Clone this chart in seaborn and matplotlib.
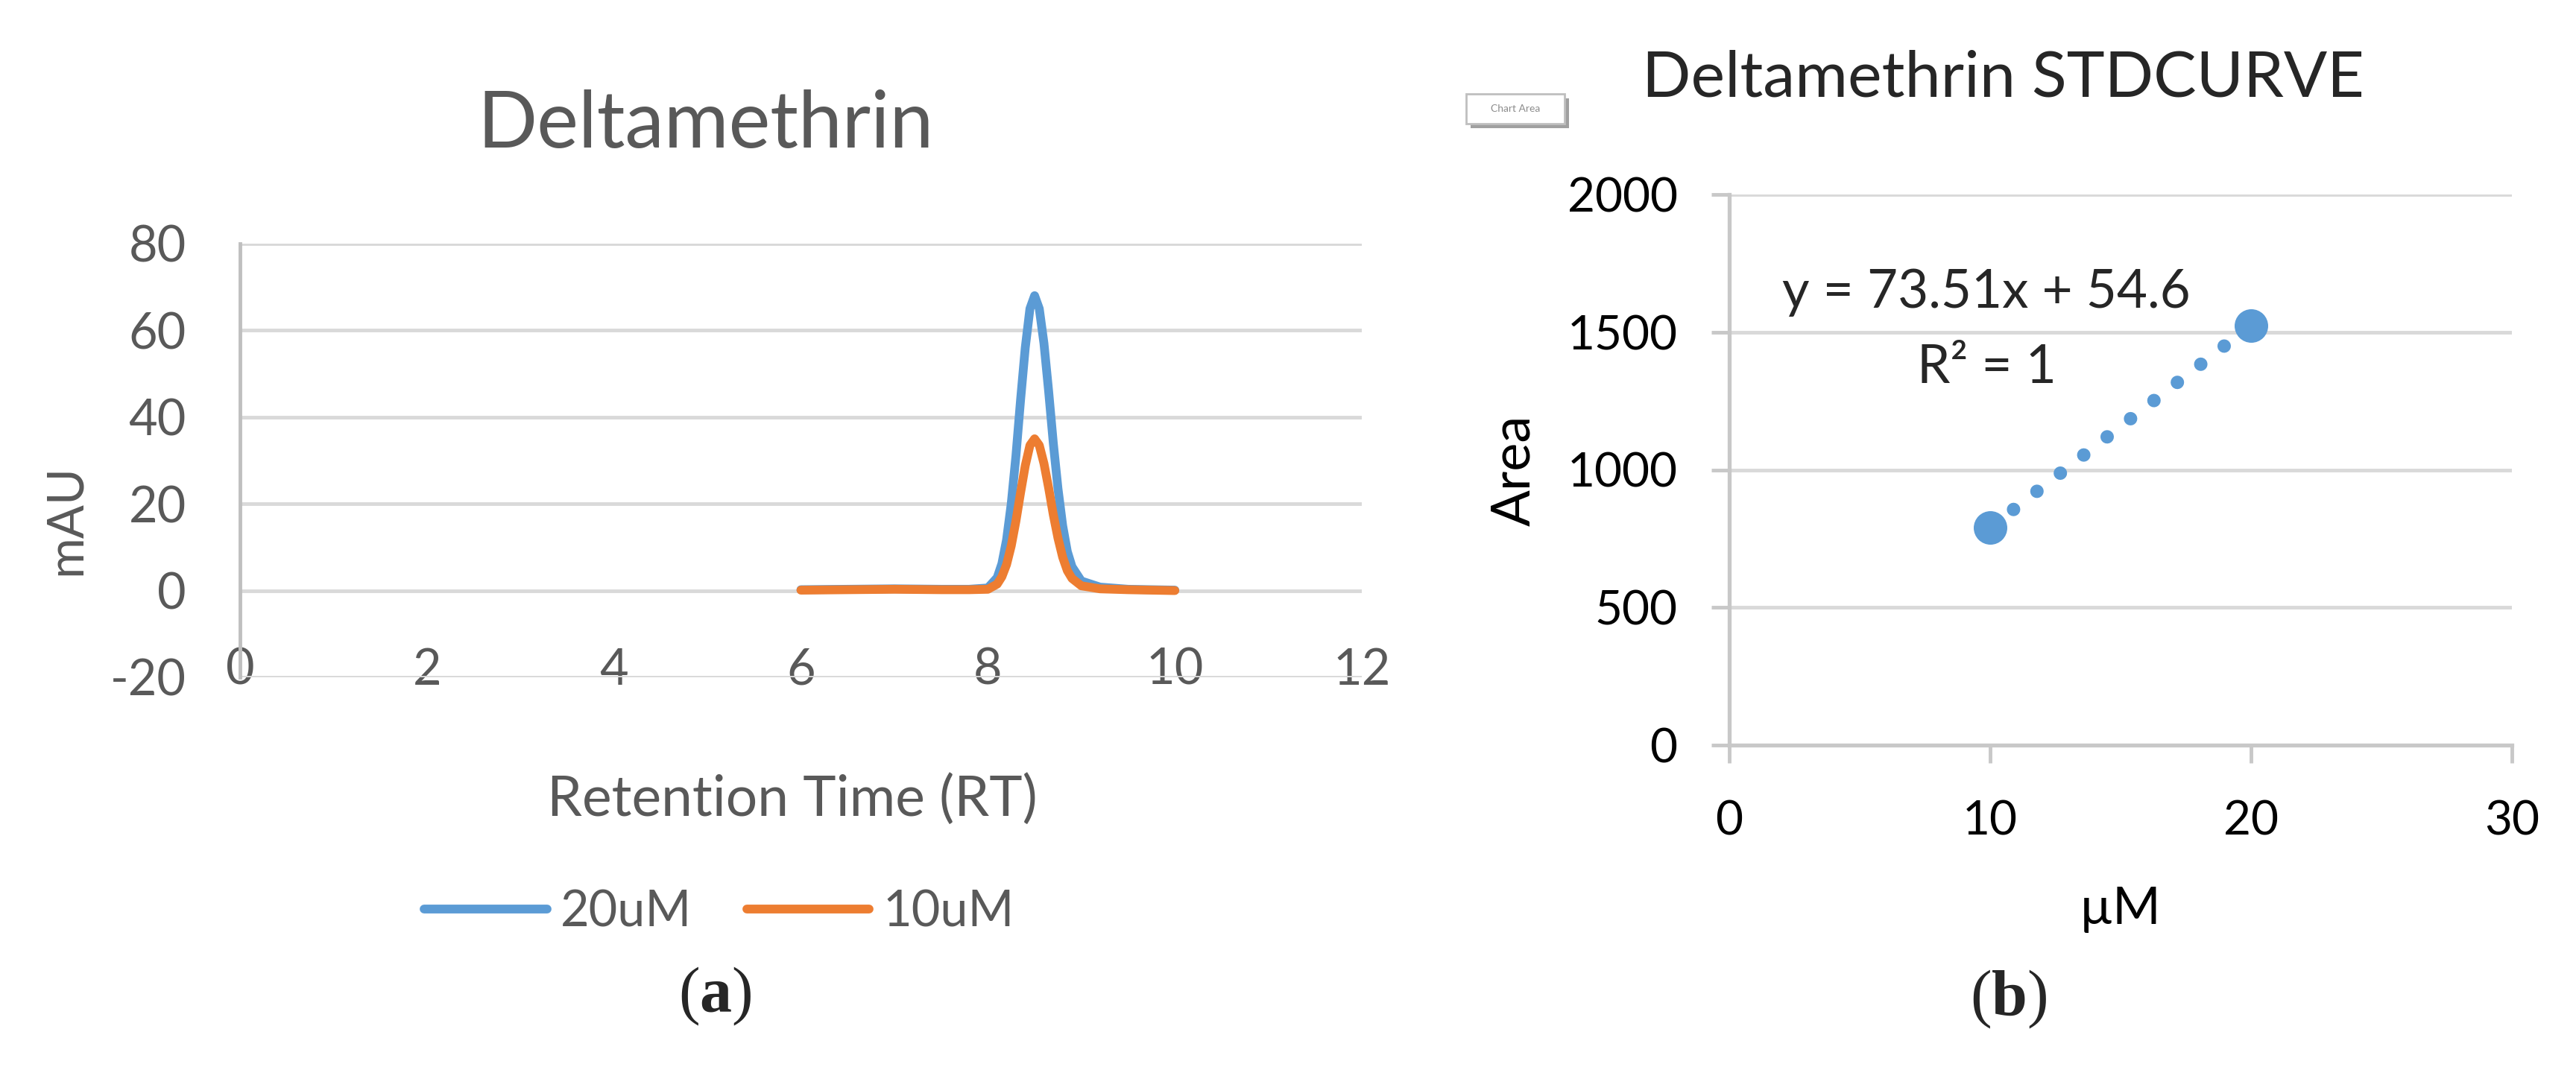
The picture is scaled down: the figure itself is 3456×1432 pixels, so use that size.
# Deltamethrin chromatogram (a) and standard curve (b)
import numpy as np
import pandas as pd
import matplotlib
matplotlib.use("Agg")
import matplotlib.pyplot as plt
import seaborn as sns
from matplotlib.lines import Line2D
from matplotlib.patches import Rectangle

# -------------------------
# data
# -------------------------
rt_min = [6.0, 6.5, 7.0, 7.5, 7.8, 8.0, 8.1, 8.15, 8.2, 8.25, 8.3, 8.35, 8.4, 8.45,
          8.5, 8.55, 8.6, 8.65, 8.7, 8.75, 8.8, 8.85, 8.9, 9.0, 9.2, 9.5, 10.0]
mau_20um = [0.2, 0.3, 0.4, 0.3, 0.3, 0.6, 3.0, 6.2, 11.7, 20, 31, 44, 56, 65,
            68, 65, 57, 46, 34, 23.5, 15, 9, 5.5, 2.2, 0.8, 0.3, 0.1]
mau_10um = [0.1, 0.2, 0.3, 0.2, 0.2, 0.3, 1.5, 3.2, 6, 10.3, 16, 22.6, 28.8, 33.5,
            35, 33.5, 29.3, 23.7, 17.5, 12.1, 7.7, 4.6, 2.8, 1.1, 0.4, 0.2, 0.0]
series_names = ["20uM", "10uM"]

conc_um = [10, 20]
peak_area = [790, 1525]
equation_text = "y = 73.51x + 54.6"
r2_text = "R\u00b2 = 1"

left_xticks = [0, 2, 4, 6, 8, 10, 12]
left_yticks = [-20, 0, 20, 40, 60, 80]
right_xticks = [0, 10, 20, 30]
right_yticks = [0, 500, 1000, 1500, 2000]

BLUE = "#5B9BD5"
ORANGE = "#ED7D31"
GREY_TXT = "#595959"
GRID = "#D9D9D9"
AXIS = "#BFBFBF"

df = pd.DataFrame({
    "RT": rt_min * 2,
    "mAU": mau_20um + mau_10um,
    "Conc": [series_names[0]] * len(rt_min) + [series_names[1]] * len(rt_min),
})

# -------------------------
# figure setup
# -------------------------
sns.set_theme(style="white")
plt.rcParams["font.family"] = ["Lato", "DejaVu Sans"]
plt.rcParams["axes.unicode_minus"] = False
plt.rcParams["mathtext.fontset"] = "custom"
plt.rcParams["mathtext.rm"] = "Liberation Serif"
plt.rcParams["mathtext.bf"] = "Liberation Serif:bold"

W, H = 3456, 1432
fig = plt.figure(figsize=(W / 100, H / 100), dpi=100)


def fx(x):
    return x / W


def fy(y):
    return 1 - y / H


# -------------------------
# (a) chromatogram
# -------------------------
ax1 = fig.add_axes([fx(322), fy(909), (1827 - 322) / W, (909 - 327) / H])
sns.lineplot(data=df, x="RT", y="mAU", hue="Conc", hue_order=series_names,
             palette=[BLUE, ORANGE], linewidth=8.5, legend=False, ax=ax1)
ax1.set_xlim(0, 12)
ax1.set_ylim(-20, 80)
ax1.set_xticks(left_xticks)
ax1.set_yticks(left_yticks)
ax1.grid(axis="y", color=GRID, linewidth=3.5)
ax1.grid(axis="x", visible=False)
for s in ["top", "right", "bottom"]:
    ax1.spines[s].set_visible(False)
ax1.spines["left"].set_color(AXIS)
ax1.spines["left"].set_linewidth(3.5)
ax1.tick_params(axis="y", length=0, pad=52, labelsize=48, labelcolor=GREY_TXT)
ax1.tick_params(axis="x", length=0, pad=-29, labelsize=48, labelcolor=GREY_TXT)

ax1.set_xlabel("Retention Time (RT)", fontsize=54, color=GREY_TXT)
ax1.xaxis.set_label_coords((1063 - 322) / 1505, (909 - 1095) / 582)
ax1.xaxis.label.set_va("baseline")
ax1.set_ylabel("mAU", fontsize=48, color=GREY_TXT)
ax1.yaxis.set_label_coords((89 - 322) / 1505, (909 - 698) / 582)
ax1.yaxis.label.set_va("center")

fig.text(fx(946), fy(198), "Deltamethrin", fontsize=76, color=GREY_TXT,
         ha="center", va="baseline")

handles = [Line2D([], [], color=BLUE, linewidth=8.5),
           Line2D([], [], color=ORANGE, linewidth=8.5)]
leg = fig.legend(handles, series_names, loc="center", ncol=2,
                 bbox_to_anchor=(fx(965), fy(1224)), frameon=False,
                 fontsize=48, handlelength=2.47, handletextpad=0.27,
                 columnspacing=1.1)
for t in leg.get_texts():
    t.set_color(GREY_TXT)

fig.text(fx(959), fy(1358), r"($\mathbf{a}$)", fontsize=62,
         family="Liberation Serif", ha="center", va="baseline")

# -------------------------
# (b) standard curve
# -------------------------
ax2 = fig.add_axes([fx(2320), fy(1000), 1050 / W, 739 / H])
sns.regplot(x=conc_um, y=peak_area, ci=None, ax=ax2,
            scatter_kws=dict(s=1050, color=BLUE, alpha=1, linewidths=0, zorder=3),
            line_kws=dict(color=BLUE, linewidth=13, linestyle=(0, (0.001, 2.2)),
                          dash_capstyle="round", zorder=2))
ax2.set_xlim(0, 30)
ax2.set_ylim(0, 2000)
ax2.set_xticks(right_xticks)
ax2.set_yticks(right_yticks)
ax2.grid(axis="y", color=GRID, linewidth=3.5)
ax2.grid(axis="x", visible=False)
for s in ["top", "right"]:
    ax2.spines[s].set_visible(False)
for s in ["left", "bottom"]:
    ax2.spines[s].set_color("#C8C8C8")
    ax2.spines[s].set_linewidth(3.8)
ax2.tick_params(axis="both", direction="out", length=17, width=3.5,
                color="#C8C8C8", labelsize=46, labelcolor="black")
ax2.tick_params(axis="x", pad=36, bottom=True)
ax2.tick_params(axis="y", pad=33, left=True)

ax2.set_xlabel("\u00b5M", fontsize=50, color="black")
ax2.xaxis.set_label_coords(0.5, (1000 - 1240) / 739)
ax2.xaxis.label.set_va("baseline")
ax2.set_ylabel("Area", fontsize=52, color="black")
ax2.yaxis.set_label_coords((2032 - 2320) / 1050, (1000 - 631) / 739)
ax2.yaxis.label.set_va("center")

fig.text(fx(2665), fy(413), equation_text, fontsize=51, ha="center", va="baseline")
fig.text(fx(2665), fy(514), r2_text, fontsize=51, ha="center", va="baseline")

fig.text(fx(2687), fy(129), "Deltamethrin STDCURVE", fontsize=62,
         ha="center", va="baseline")

# little "Chart Area" tooltip box
fig.patches.append(Rectangle((fx(1973), fy(172)), 132 / W, 40 / H,
                             transform=fig.transFigure, facecolor="#A0A0A0",
                             edgecolor="none", zorder=1))
fig.patches.append(Rectangle((fx(1967), fy(166)), 132 / W, 40 / H,
                             transform=fig.transFigure, facecolor="white",
                             edgecolor="#BFBFBF", linewidth=2, zorder=2))
fig.text(fx(2033), fy(146), "Chart Area", fontsize=10, color="#8C8C8C",
         ha="center", va="center", zorder=3)

fig.text(fx(2695), fy(1362), r"($\mathbf{b}$)", fontsize=62,
         family="Liberation Serif", ha="center", va="baseline")

fig.savefig("out.png", dpi=100)
